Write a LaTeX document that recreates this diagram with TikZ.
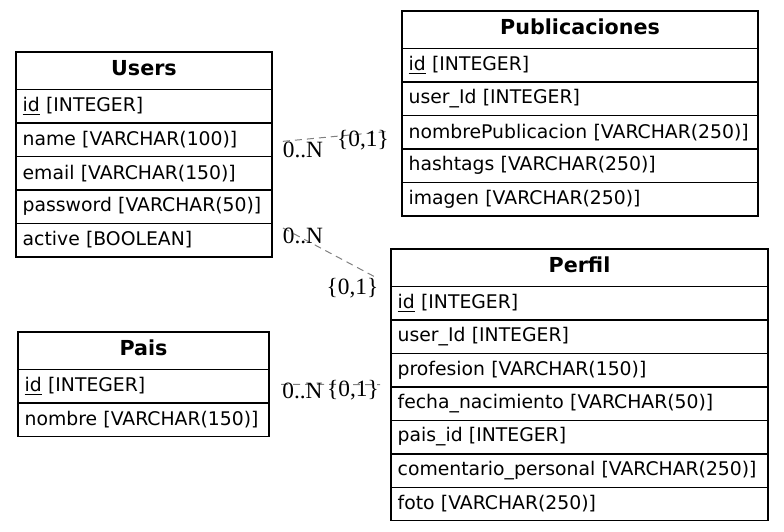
\documentclass[tikz,border=0pt]{standalone}
\usepackage{fontspec}
\setmainfont{DejaVu Sans}
\newfontfamily\cardfont{Liberation Serif}
\usetikzlibrary{positioning, fit}

\begin{document}
\begin{tikzpicture}[x=0.75pt, y=-0.75pt,
  tabhead/.style={draw, line width=1.1pt, outer sep=0pt, anchor=north west, inner sep=0pt,
    minimum width=#1, minimum height=28.1pt, font=\fontsize{15.5}{17}\selectfont\bfseries},
  tabrow/.style={draw, line width=1.1pt, outer sep=0pt, anchor=north, inner xsep=5pt, inner ysep=0pt,
    text width=#1, align=left, minimum height=25.1pt, font=\fontsize{14.1}{17}\selectfont},
  tabbox/.style={inner sep=0pt, outer sep=0pt},
  rel/.style={draw=gray, line width=0.75pt, dash pattern=on 5.25pt off 3.75pt},
  card/.style={inner sep=0pt, font=\cardfont\fontsize{17.5}{20}\selectfont}]
  \useasboundingbox (0,0) rectangle (784,531);

  % Users
  \node[tabhead=192pt] (users) at (16,52) {\strut Users};
  \node[tabrow=182pt, below=0pt of users] (users-id) {\underline{id} [INTEGER]};
  \node[tabrow=182pt, below=0pt of users-id] (users-name) {name [VARCHAR(100)]};
  \node[tabrow=182pt, below=0pt of users-name] (users-email) {email [VARCHAR(150)]};
  \node[tabrow=182pt, below=0pt of users-email] (users-password) {password [VARCHAR(50)]};
  \node[tabrow=182pt, below=0pt of users-password] (users-active) {active [BOOLEAN]};
  \node[tabbox, fit=(users)(users-active)] (users-box) {};

  % Publicaciones
  \node[tabhead=267pt] (pub) at (402,11) {\strut Publicaciones};
  \node[tabrow=257pt, below=0pt of pub] (pub-id) {\underline{id} [INTEGER]};
  \node[tabrow=257pt, below=0pt of pub-id] (pub-user) {user\_Id [INTEGER]};
  \node[tabrow=257pt, below=0pt of pub-user] (pub-nombre) {nombrePublicacion [VARCHAR(250)]};
  \node[tabrow=257pt, below=0pt of pub-nombre] (pub-hashtags) {hashtags [VARCHAR(250)]};
  \node[tabrow=257pt, below=0pt of pub-hashtags] (pub-imagen) {imagen [VARCHAR(250)]};
  \node[tabbox, fit=(pub)(pub-imagen)] (pub-box) {};

  % Perfil
  \node[tabhead=282.75pt] (perfil) at (391,249) {\strut Perfil};
  \node[tabrow=272.75pt, below=0pt of perfil] (perfil-id) {\underline{id} [INTEGER]};
  \node[tabrow=272.75pt, below=0pt of perfil-id] (perfil-user) {user\_Id [INTEGER]};
  \node[tabrow=272.75pt, below=0pt of perfil-user] (perfil-profesion) {profesion [VARCHAR(150)]};
  \node[tabrow=272.75pt, below=0pt of perfil-profesion] (perfil-fecha) {fecha\_nacimiento [VARCHAR(50)]};
  \node[tabrow=272.75pt, below=0pt of perfil-fecha] (perfil-pais) {pais\_id [INTEGER]};
  \node[tabrow=272.75pt, below=0pt of perfil-pais] (perfil-comentario) {comentario\_personal [VARCHAR(250)]};
  \node[tabrow=272.75pt, below=0pt of perfil-comentario] (perfil-foto) {foto [VARCHAR(250)]};
  \node[tabbox, fit=(perfil)(perfil-foto)] (perfil-box) {};

  % Pais
  \node[tabhead=188.25pt] (pais) at (18,332) {\strut Pais};
  \node[tabrow=178.25pt, below=0pt of pais] (pais-id) {\underline{id} [INTEGER]};
  \node[tabrow=178.25pt, below=0pt of pais-id] (pais-nombre) {nombre [VARCHAR(150)]};
  \node[tabbox, fit=(pais)(pais-nombre)] (pais-box) {};

  % relations
  \draw[rel, shorten <=8.25pt, shorten >=10.5pt] (users-box) -- (pub-box);
  \draw[rel, shorten <=9.3pt, shorten >=13.6pt] (users-box) -- (perfil-box);
  \draw[rel, shorten <=9pt, shorten >=8.25pt] (pais-box) -- (perfil-box);

  \node[card] (c1-tail) at (303,149.5) {0..N};
  \node[card] (c1-head) at (363,140.5) {\{0,1\}};
  \node[card] (c2-tail) at (303,236) {0..N};
  \node[card] (c2-head) at (352.5,288.5) {\{0,1\}};
  \node[card] (c3-tail) at (302.5,391) {0..N};
  \node[card] (c3-head) at (353,390.5) {\{0,1\}};
\end{tikzpicture}
\end{document}
